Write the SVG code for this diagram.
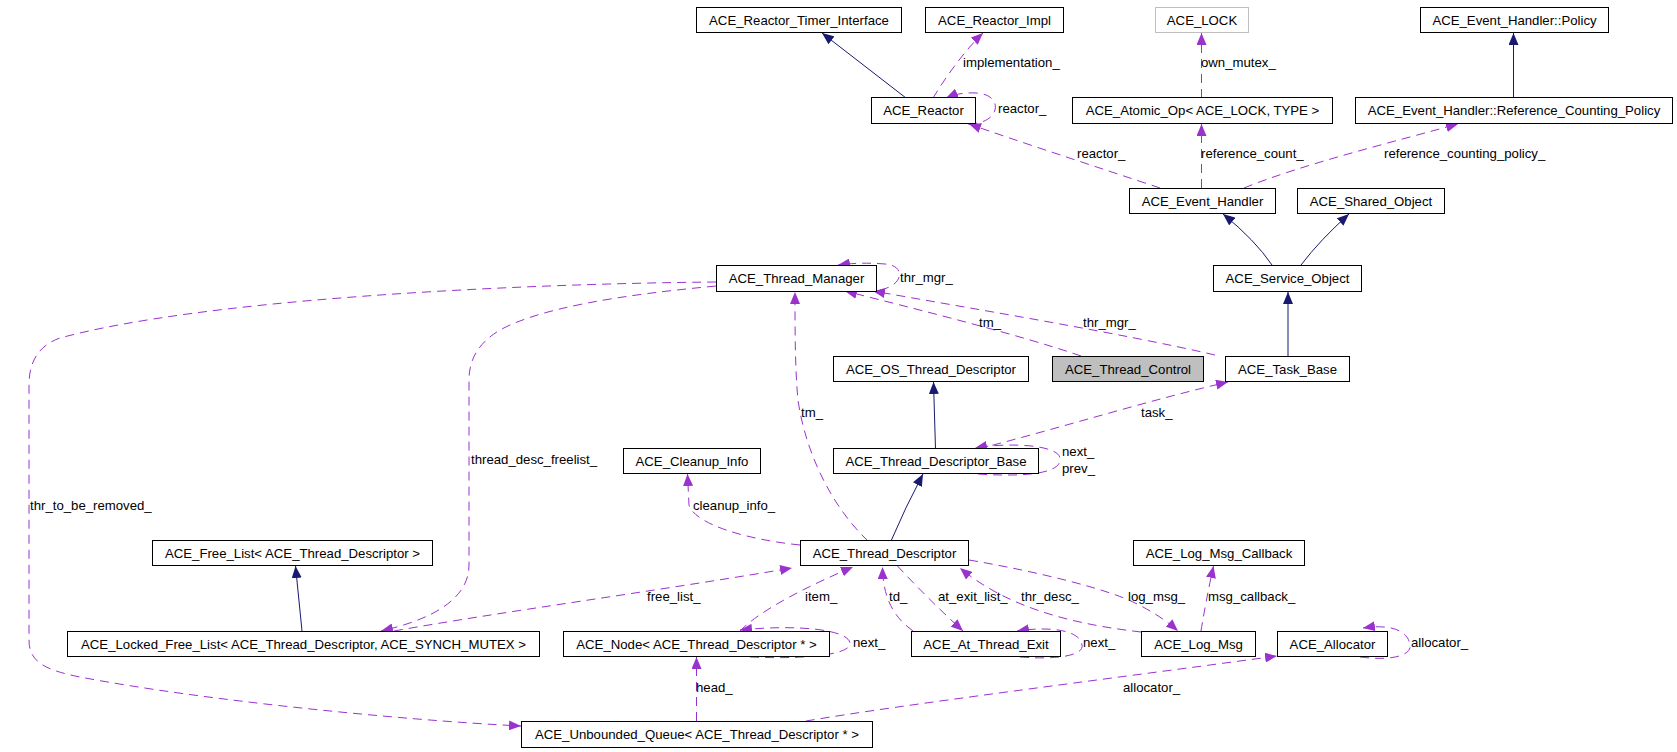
<svg xmlns="http://www.w3.org/2000/svg" width="1677" height="752" viewBox="0 0 1677 752">
<style>
.n rect{fill:#fff;stroke:#000;stroke-width:1}
.n text{font-family:"Liberation Sans",Arial,sans-serif;font-size:13.2px;fill:#000;text-anchor:middle}
.lbl{font-family:"Liberation Sans",Arial,sans-serif;font-size:13.2px;fill:#000}
.inh{fill:none;stroke:#191970;stroke-width:1;marker-end:url(#an)}
.use{fill:none;stroke:#9a32cd;stroke-width:1;stroke-dasharray:9,6;marker-end:url(#ap)}
</style>
<defs>
<marker id="an" markerWidth="12" markerHeight="10" refX="12" refY="5" orient="auto" markerUnits="userSpaceOnUse"><path d="M0,0 L12,5 L0,10 z" fill="#191970" stroke="none"/></marker>
<marker id="ap" markerWidth="12" markerHeight="10" refX="12" refY="5" orient="auto" markerUnits="userSpaceOnUse"><path d="M0,0 L12,5 L0,10 z" fill="#9a32cd" stroke="none"/></marker>
</defs>
<rect width="1677" height="752" fill="#fff"/>
<g id="connectors">
<path class="inh" d="M906,98 L822,33"/>
<path class="use" d="M933,98 C945,78 965,50 983,33"/>
<path class="use" d="M968,124 C1002,124 1004,94 976,93 Q960,92 946,98"/>
<path class="use" d="M1160,188 C1100,168 1020,142 969,124"/>
<path class="use" d="M1201.5,98 L1201.5,33"/>
<path class="use" d="M1201.5,188 L1201.5,124"/>
<path class="use" d="M1244,188 C1300,165 1400,140 1458,124"/>
<path class="inh" d="M1513.5,98 L1513.5,33"/>
<path class="inh" d="M1272,265 Q1255,240 1223,214"/>
<path class="inh" d="M1301,265 Q1320,240 1349,214"/>
<path class="inh" d="M1288,357 L1288,292"/>
<path class="use" d="M880,290 C905,285 905,265 885,264 Q860,262 838,265"/>
<path class="use" d="M1081,356 C1020,335 920,310 845,291"/>
<path class="use" d="M1215,355 C1120,333 980,310 873,291"/>
<path class="use" d="M868,541 C830,505 805,450 798,400 C795,370 795,330 795,292"/>
<path class="inh" d="M935.5,449 L933.5,382"/>
<path class="use" d="M978,449 C1060,428 1150,400 1228,382"/>
<path class="use" d="M978,474 C1040,478 1062,470 1060,458 C1058,445 1010,442 975,448"/>
<path class="inh" d="M891,541 Q905,508 923,474"/>
<path class="use" d="M800,545 C750,540 695,525 689,505 L687.5,474"/>
<path class="inh" d="M302,631 L295.5,566"/>
<path class="use" d="M716,286 C620,295 540,308 500,330 C478,343 469,360 469,380 L469,565 C469,600 430,620 381,631"/>
<path class="use" d="M394,631 C500,612 650,592 792,568"/>
<path class="use" d="M716,282 C500,284 200,300 60,338 C40,345 29,360 29,385 L29,640 C29,662 45,670 80,677 C200,700 400,720 521,726"/>
<path class="use" d="M740,631 C760,610 810,585 853,567"/>
<path class="use" d="M750,657 C820,660 852,652 850,643 C848,630 800,624 740,630"/>
<path class="use" d="M696.5,721 L696.5,657"/>
<path class="use" d="M913,631 C895,618 883,600 882.5,567"/>
<path class="use" d="M897.5,566 C915,585 940,610 963,631"/>
<path class="use" d="M1020,657 C1060,660 1084,655 1082,645 C1080,630 1050,626 1017,631"/>
<path class="use" d="M1141,632 C1080,625 1010,610 960,568"/>
<path class="use" d="M969,560 C1040,572 1110,590 1135,603 Q1160,615 1178,631"/>
<path class="use" d="M1201,631 Q1206,600 1213.5,566"/>
<path class="use" d="M1360,657 C1400,662 1412,652 1410,645 C1408,630 1390,624 1363,628"/>
<path class="use" d="M806,721 C900,705 1100,680 1277,656"/>
<text class="lbl" x="963" y="67">implementation_</text>
<text class="lbl" x="998" y="113">reactor_</text>
<text class="lbl" x="1077" y="158">reactor_</text>
<text class="lbl" x="1201" y="67">own_mutex_</text>
<text class="lbl" x="1201" y="158">reference_count_</text>
<text class="lbl" x="1384" y="158">reference_counting_policy_</text>
<text class="lbl" x="900" y="282">thr_mgr_</text>
<text class="lbl" x="979" y="327">tm_</text>
<text class="lbl" x="1083" y="327">thr_mgr_</text>
<text class="lbl" x="801" y="417">tm_</text>
<text class="lbl" x="1141" y="417">task_</text>
<text class="lbl" x="1062" y="456">next_</text>
<text class="lbl" x="1062" y="473">prev_</text>
<text class="lbl" x="471" y="464">thread_desc_freelist_</text>
<text class="lbl" x="30" y="510">thr_to_be_removed_</text>
<text class="lbl" x="693" y="510">cleanup_info_</text>
<text class="lbl" x="647" y="601">free_list_</text>
<text class="lbl" x="805" y="601">item_</text>
<text class="lbl" x="889" y="601">td_</text>
<text class="lbl" x="938" y="601">at_exit_list_</text>
<text class="lbl" x="1021" y="601">thr_desc_</text>
<text class="lbl" x="1128" y="601">log_msg_</text>
<text class="lbl" x="1208" y="601">msg_callback_</text>
<text class="lbl" x="853" y="647">next_</text>
<text class="lbl" x="1083" y="647">next_</text>
<text class="lbl" x="1411" y="647">allocator_</text>
<text class="lbl" x="696" y="692">head_</text>
<text class="lbl" x="1123" y="692">allocator_</text>
</g>
<g id="n_rti" class="n"><rect x="696.5" y="7.5" width="205" height="25"/><text x="799" y="24.5">ACE_Reactor_Timer_Interface</text></g>
<g id="n_rimpl" class="n"><rect x="925.5" y="7.5" width="138" height="25"/><text x="994.5" y="24.5">ACE_Reactor_Impl</text></g>
<g id="n_lock" class="n"><rect x="1155.5" y="7.5" width="93" height="25" style="stroke:#bfbfbf"/><text x="1202" y="24.5">ACE_LOCK</text></g>
<g id="n_policy" class="n"><rect x="1420.5" y="7.5" width="188" height="25"/><text x="1514.5" y="24.5">ACE_Event_Handler::Policy</text></g>
<g id="n_reactor" class="n"><rect x="871.5" y="97.5" width="104" height="26"/><text x="923.5" y="115">ACE_Reactor</text></g>
<g id="n_atomic" class="n"><rect x="1072.5" y="97.5" width="260" height="26"/><text x="1202.5" y="115">ACE_Atomic_Op&lt; ACE_LOCK, TYPE &gt;</text></g>
<g id="n_rcp" class="n"><rect x="1355.5" y="97.5" width="317" height="26"/><text x="1514" y="115">ACE_Event_Handler::Reference_Counting_Policy</text></g>
<g id="n_eh" class="n"><rect x="1129.5" y="188.5" width="146" height="25"/><text x="1202.5" y="205.5">ACE_Event_Handler</text></g>
<g id="n_so_shared" class="n"><rect x="1297.5" y="188.5" width="147" height="25"/><text x="1371" y="205.5">ACE_Shared_Object</text></g>
<g id="n_svc" class="n"><rect x="1213.5" y="265.5" width="148" height="26"/><text x="1287.5" y="283">ACE_Service_Object</text></g>
<g id="n_tm" class="n"><rect x="716.5" y="265.5" width="160" height="26"/><text x="796.5" y="283">ACE_Thread_Manager</text></g>
<g id="n_ostd" class="n"><rect x="833.5" y="356.5" width="195" height="25"/><text x="931" y="373.5">ACE_OS_Thread_Descriptor</text></g>
<g id="n_tc" class="n"><rect x="1052.5" y="356.5" width="151" height="25" style="fill:#bfbfbf"/><text x="1128" y="373.5">ACE_Thread_Control</text></g>
<g id="n_tb" class="n"><rect x="1225.5" y="356.5" width="124" height="25"/><text x="1287.5" y="373.5">ACE_Task_Base</text></g>
<g id="n_cleanup" class="n"><rect x="623.5" y="448.5" width="137" height="25"/><text x="692" y="465.5">ACE_Cleanup_Info</text></g>
<g id="n_tdb" class="n"><rect x="833.5" y="448.5" width="205" height="25"/><text x="936" y="465.5">ACE_Thread_Descriptor_Base</text></g>
<g id="n_freelist" class="n"><rect x="152.5" y="540.5" width="280" height="25"/><text x="292.5" y="557.5">ACE_Free_List&lt; ACE_Thread_Descriptor &gt;</text></g>
<g id="n_td" class="n"><rect x="800.5" y="540.5" width="168" height="25"/><text x="884.5" y="557.5">ACE_Thread_Descriptor</text></g>
<g id="n_lmcb" class="n"><rect x="1133.5" y="540.5" width="171" height="25"/><text x="1219" y="557.5">ACE_Log_Msg_Callback</text></g>
<g id="n_lfl" class="n"><rect x="67.5" y="631.5" width="472" height="25"/><text x="303.5" y="648.5">ACE_Locked_Free_List&lt; ACE_Thread_Descriptor, ACE_SYNCH_MUTEX &gt;</text></g>
<g id="n_node" class="n"><rect x="563.5" y="631.5" width="266" height="25"/><text x="696.5" y="648.5">ACE_Node&lt; ACE_Thread_Descriptor * &gt;</text></g>
<g id="n_ate" class="n"><rect x="911.5" y="631.5" width="149" height="25"/><text x="986" y="648.5">ACE_At_Thread_Exit</text></g>
<g id="n_logmsg" class="n"><rect x="1141.5" y="631.5" width="114" height="25"/><text x="1198.5" y="648.5">ACE_Log_Msg</text></g>
<g id="n_alloc" class="n"><rect x="1277.5" y="631.5" width="110" height="25"/><text x="1332.5" y="648.5">ACE_Allocator</text></g>
<g id="n_uq" class="n"><rect x="521.5" y="721.5" width="351" height="26"/><text x="697" y="739">ACE_Unbounded_Queue&lt; ACE_Thread_Descriptor * &gt;</text></g>
</svg>
